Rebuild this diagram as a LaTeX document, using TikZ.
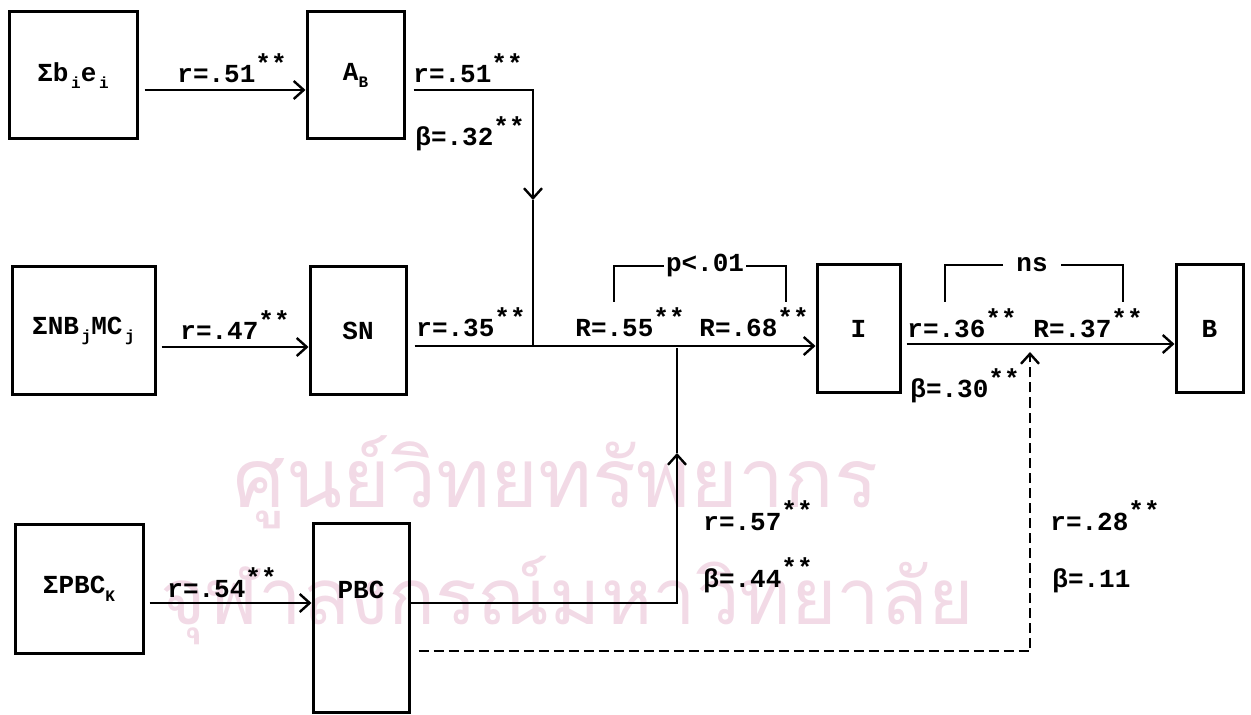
\documentclass[tikz,border=0pt]{standalone}
\usepackage{fontspec}
\setmonofont{Liberation Mono}
\newfontfamily\thaifont[Script=Thai]{Loma}
\usetikzlibrary{arrows.meta}
\definecolor{wm}{RGB}{242,218,230}
\newcommand{\st}{\raisebox{0.42em}{**}}
\newcommand{\sbs}[1]{\raisebox{-0.3em}{\fontsize{8}{8}\selectfont #1}}
\begin{document}
\begin{tikzpicture}[x=0.5pt,y=-0.5pt,
  every node/.style={font=\ttfamily\bfseries\fontsize{13}{15}\selectfont},
  box/.style={draw, line width=1.5pt, inner sep=0pt},
  conn/.style={line width=1.4pt},
  arr/.style={conn, -{Straight Barb[length=5pt,width=9pt,line width=1.2pt]}},
  dashconn/.style={dash pattern=on 5pt off 2.5pt},
  lbl/.style={anchor=base west, inner sep=0pt},
  wmtext/.style={text=wm, inner sep=0pt, font=\thaifont\fontsize{40}{40}\selectfont},
]
\useasboundingbox (0,0) rectangle (1251,715);
% watermark
\node[wmtext] (wm1) at (556,482) {\resizebox{322pt}{!}{ศูนย์วิทยทรัพยากร}};
\node[wmtext] (wm2) at (567,600) {\resizebox{407pt}{!}{จุฬาลงกรณ์มหาวิทยาลัย}};
% boxes
\node[box, minimum width=64pt, minimum height=63.5pt] (sb) at (73,75.5) {Σb\sbs{\,i}e\sbs{\,i}};
\node[box, minimum width=48.5pt, minimum height=63.5pt] (ab) at (355.5,75.5) {A\sbs{B}};
\node[box, minimum width=71.5pt, minimum height=64pt] (snb) at (83.5,331) {ΣNB\sbs{\,j}MC\sbs{\,j}};
\node[box, minimum width=48pt, minimum height=64pt] (sn) at (358,331) {SN};
\node[box, minimum width=41.5pt, minimum height=64pt] (i) at (858.5,329) {I};
\node[box, minimum width=33.5pt, minimum height=64pt] (b) at (1209.5,329) {B};
\node[box, minimum width=64pt, minimum height=64.5pt] (spbc) at (79,588.5) {ΣPBC\sbs{K}};
\node[box, minimum width=48pt, text height=37.5pt, text depth=57pt] (pbc) at (361,617.5) {PBC};
% connectors
\coordinate (m1) at (533,200);
\coordinate (j1) at (533,346);
\coordinate (m2) at (677,453);
\coordinate (j2) at (677,348);
\coordinate (m3) at (1030,352);
\draw[arr] ([xshift=3pt,yshift=-7.25pt]sb.east) -- ([yshift=-7.25pt]ab.west);
\draw[arr] ([xshift=4pt,yshift=-7.25pt]ab.east) -| (m1);
\draw[conn] (m1) -- (j1);
\draw[arr] ([xshift=2.5pt,yshift=-8pt]snb.east) -- ([yshift=-8pt]sn.west);
\draw[arr] ([xshift=3.5pt,yshift=-7.5pt]sn.east) -- ([yshift=-8.5pt]i.west);
\draw[arr] ([xshift=2.5pt,yshift=-7.25pt]spbc.east) -- ([yshift=7.25pt]pbc.west);
\draw[arr] ([yshift=7.25pt]pbc.east) -| (m2);
\draw[conn] (m2) -- (j2);
\draw[arr] ([xshift=2.5pt,yshift=-7.5pt]i.east) -- ([yshift=-7.5pt]b.west);
\draw[arr, dashconn] ([xshift=4pt,yshift=-16.75pt]pbc.east) -| (m3);
% brackets
\node[inner sep=1pt] (p) at (705,266) {p<.01};
\draw[conn] (p.west) -- (614,266) -- (614,302);
\draw[conn] (p.east) -- (786,266) -- (786,302);
\node[inner sep=6.5pt] (ns) at (1032,265) {ns};
\draw[conn] (ns.west) -- (945,265) -- (945,302);
\draw[conn] (ns.east) -- (1123,265) -- (1123,302);
% labels
\node[lbl] (l1) at (177,83) {r=.51\st};
\node[lbl] (l2) at (413,83) {r=.51\st};
\node[lbl] (l3) at (415,146) {β=.32\st};
\node[lbl] (l4) at (180,340) {r=.47\st};
\node[lbl] (l5) at (416,337) {r=.35\st};
\node[lbl] (l6) at (575,337) {R=.55\st};
\node[lbl] (l7) at (699,337) {R=.68\st};
\node[lbl] (l8) at (907,338) {r=.36\st};
\node[lbl] (l9) at (1033,338) {R=.37\st};
\node[lbl] (l10) at (910,398) {β=.30\st};
\node[lbl] (l11) at (703,530) {r=.57\st};
\node[lbl] (l12) at (703,587) {β=.44\st};
\node[lbl] (l13) at (1050,530) {r=.28\st};
\node[lbl] (l14) at (1052,587) {β=.11};
\node[lbl] (l15) at (167,597) {r=.54\st};
\end{tikzpicture}
\end{document}
